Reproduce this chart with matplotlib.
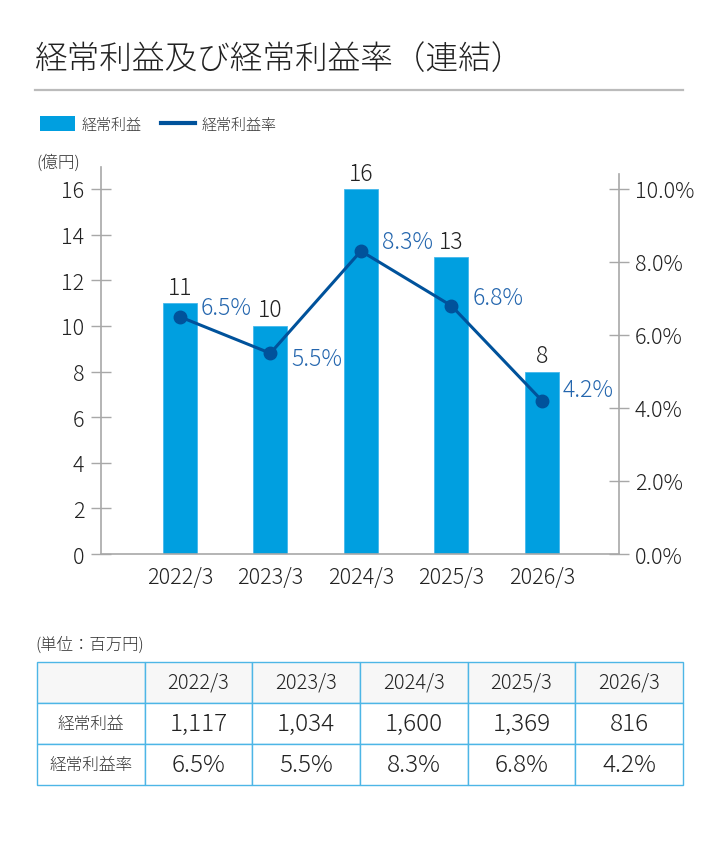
import matplotlib
matplotlib.use('Agg')
import matplotlib.pyplot as plt
from matplotlib.patches import Patch
from matplotlib.lines import Line2D
import numpy as np

plt.rcParams['font.family'] = ['Noto Sans CJK JP', 'DejaVu Sans']
plt.rcParams['font.weight'] = 'light'

# data
years = ['2022/3', '2023/3', '2024/3', '2025/3', '2026/3']
profit_oku = [11, 10, 16, 13, 8]            # 億円 (bars)
profit_mil = ['1,117', '1,034', '1,600', '1,369', '816']  # 百万円 (table)
margin = [6.5, 5.5, 8.3, 6.8, 4.2]          # %
left_ticks = [0, 2, 4, 6, 8, 10, 12, 14, 16]
right_ticks = [0, 2, 4, 6, 8, 10]

BAR = '#009FE0'
LINE = '#00529B'
PCT = '#2466AE'
AXC = '#A8A8A8'
TXT = '#222222'

W, H = 720, 845
fig = plt.figure(figsize=(W / 100, H / 100), dpi=100)

def fx(px):
    return px / W

def fy(py):
    return 1 - py / H

# title + rule
fig.text(fx(35), fy(60), '経常利益及び経常利益率（連結）', fontsize=23.5,
         color=TXT, va='center', ha='left')
fig.add_artist(Line2D([fx(35), fx(683)], [fy(91), fy(91)], color='#BBBBBB', lw=1.6))

# legend
handles = [Patch(facecolor=BAR, edgecolor='none'),
           Line2D([0], [0], color=LINE, lw=3)]
fig.legend(handles, ['経常利益', '経常利益率'], loc='center left',
           bbox_to_anchor=(fx(40), fy(125)), ncol=2, frameon=False,
           fontsize=10.8, handlelength=2.3, handleheight=1.1,
           handletextpad=0.45, columnspacing=1.3, borderpad=0,
           borderaxespad=0, labelcolor='#333333')

fig.text(fx(36), fy(163), '(億円)', fontsize=12, color='#333333', va='center')

# main axes
ax_top, ax_bot = 168, 555
ax = fig.add_axes([fx(101), fy(ax_bot), fx(619) - fx(101), fy(ax_top) - fy(ax_bot)])
x = np.arange(len(years))
px_per_unit = (555 - 190) / 16
ax.set_ylim(0, (ax_bot - ax_top) / px_per_unit)
ax.set_xlim(-0.87, 4.85)
bars = ax.bar(x, profit_oku, width=0.375, color=BAR, edgecolor='#45B8EC', lw=0.6, zorder=2)
for xi, v in zip(x, profit_oku):
    ax.annotate(str(v), (xi, v), xytext=(0, 2.5), textcoords='offset points',
                ha='center', va='bottom', fontsize=16.5, color=TXT)

ax.set_yticks(left_ticks)
ax.set_yticklabels([str(t) for t in left_ticks])
ax.set_xticks(x)
ax.set_xticklabels(years)
ax.tick_params(axis='y', direction='inout', length=15, width=1, color=AXC,
               labelsize=15.5, labelcolor=TXT, pad=4.5)
ax.tick_params(axis='x', length=0, labelsize=15.5, labelcolor=TXT, pad=9)
for s in ['top', 'right']:
    ax.spines[s].set_visible(False)
for s in ['left', 'bottom']:
    ax.spines[s].set_color(AXC)
    ax.spines[s].set_linewidth(1.2)

ax2 = ax.twinx()
pct_per_px = 10 / (555 - 190)
ax2.set_ylim(0, (ax_bot - ax_top) * pct_per_px)
ax2.spines['right'].set_bounds(0, 10.41)
for s in ['top', 'left', 'bottom']:
    ax2.spines[s].set_visible(False)
ax2.spines['right'].set_color(AXC)
ax2.spines['right'].set_linewidth(1.2)
ax2.set_yticks(right_ticks)
ax2.set_yticklabels([f'{t:.1f}%' for t in right_ticks])
ax2.tick_params(axis='y', direction='inout', length=15, width=1, color=AXC,
                labelsize=15.5, labelcolor=TXT, pad=4)
ax2.plot(x, margin, color=LINE, lw=2.2, marker='o', markersize=9, zorder=3)
label_dy = [7, -4, 7, 6, 8]
for xi, v, dy in zip(x, margin, label_dy):
    ax2.annotate(f'{v}%', (xi, v), xytext=(15, dy), textcoords='offset points',
                 ha='left', va='center', fontsize=16.5, color=PCT)

# table
fig.text(fx(35), fy(645), '(単位：百万円)', fontsize=11.8, color='#333333', va='center')
tab_ax = fig.add_axes([fx(37), fy(786), fx(683) - fx(37), fy(663) - fy(786)])
tab_ax.axis('off')
cells = [[''] + years,
         ['経常利益'] + profit_mil,
         ['経常利益率'] + [f'{v}%' for v in margin]]
tbl = tab_ax.table(cellText=cells, bbox=[0, 0, 1, 1], cellLoc='center')
tbl.auto_set_font_size(False)
for (r, c), cell in tbl.get_celld().items():
    cell.set_edgecolor('#4DB6E6')
    cell.set_linewidth(1.0)
    t = cell.get_text()
    t.set_color(TXT)
    if r == 0:
        cell.set_facecolor('#F7F7F7')
        t.set_fontsize(14.5)
    elif c == 0:
        t.set_fontsize(12)
        t.set_color('#333333')
    else:
        t.set_fontsize(17.5)

fig.savefig('out.png', dpi=100)
